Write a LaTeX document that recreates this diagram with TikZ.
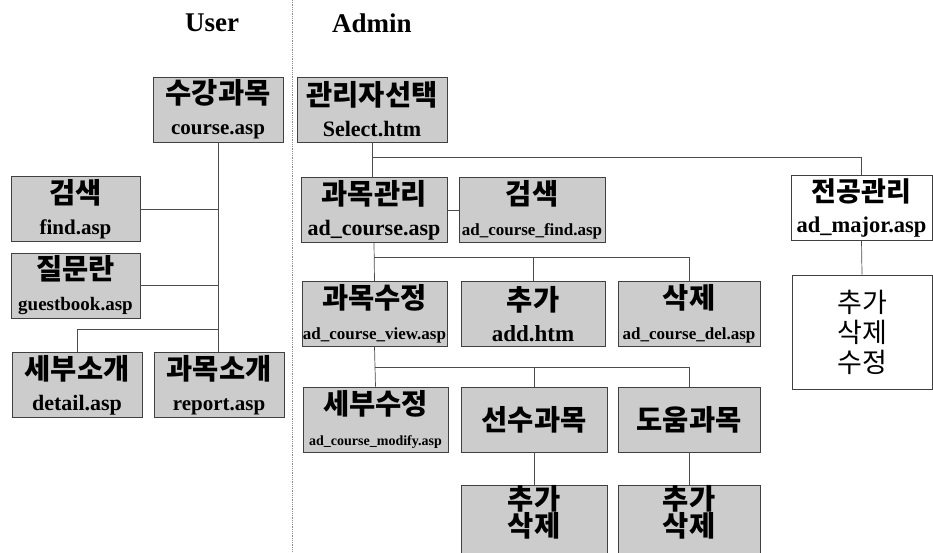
\documentclass[tikz,border=0pt]{standalone}
\usepackage{fontspec}
\setmainfont{Liberation Serif}
\newfontfamily\kor{Noto Sans CJK KR}
\usetikzlibrary{positioning}

% korean title line and file name line
\newcommand{\kr}[1]{{\kor\bfseries\fontsize{28.5}{31}\selectfont #1}}
\newcommand{\krl}[1]{{\kor\fontsize{27}{30}\selectfont #1}}
\newcommand{\fn}[2]{{\bfseries\fontsize{#1}{31}\selectfont #2}}

\begin{document}
\begin{tikzpicture}[x=1pt,y=-1pt,%
		   box/.style={draw=black!75,line width=0.8pt,fill=black!20,align=center,inner sep=0pt,minimum height=65pt,font=\bfseries\fontsize{21}{31}\selectfont},
		   plainbox/.style={box,fill=white},
		   link/.style={draw=black!70,line width=0.7pt},
		   head/.style={font=\bfseries\fontsize{27}{30}\selectfont}]

	\useasboundingbox (0,0) rectangle (933,553);

	% divider between the two sides
	\draw[black!45,densely dotted,line width=0.8pt] (292,0) -- (292,553);
	\node[head] (user) at (212,23) {User};
	\node[head] (admin) at (372,23) {Admin};

	% user side
	\foreach \name/\x/\y/\w/\kt/\et/\fs in {%
	   course/218/109.5/130/수강과목/course.asp/21,%
	   find/75.5/209/129/검색/find.asp/21,%
	   guest/75.5/285.5/129/질문란/guestbook.asp/19,%
	   detail/77/385/130/세부소개/detail.asp/22,%
	   report/219/385/130/과목소개/report.asp/21%
	   } {\node[box,minimum width=\w pt] (\name) at (\x,\y) {\kr{\kt}\\\fn{\fs}{\et}};}

	\draw[link] (course.south) -- (course.south |- report.north);
	\draw[link] (find.east) -- (find.east -| course.south);
	\draw[link] (guest.east) -- (guest.east -| course.south);
	\coordinate (ubranch) at (course.south |- 0,329);
	\draw[link] (ubranch) -| (detail.north);

	% admin side
	\foreach \name/\x/\y/\w/\kt/\et/\fs in {%
	   select/372/109.5/150/관리자선택/Select.htm/22,%
	   adcourse/374/210/146/과목관리/ad\_course.asp/22,%
	   adfind/532/210/146/검색/ad\_course\_find.asp/17,%
	   view/374.5/314/145/과목수정/ad\_course\_view.asp/17,%
	   add/533/314/144/추가/add.htm/23,%
	   del/689/314/142/삭제/ad\_course\_del.asp/17,%
	   modify/375.5/419.5/145/세부수정/ad\_course\_modify.asp/14%
	   } {\node[box,minimum width=\w pt] (\name) at (\x,\y) {\kr{\kt}\\\fn{\fs}{\et}};}

	\node[box,minimum width=146pt] (pre) at (534,419.5) {\kr{선수과목}};
	\node[box,minimum width=142pt] (help) at (689,419.5) {\kr{도움과목}};
	\node[box,minimum width=146pt,text depth=20pt,font=\fontsize{28}{26}\selectfont] (preadd) at (534,521) {\kr{추가}\\\kr{삭제}};
	\node[box,minimum width=142pt,text depth=20pt,font=\fontsize{28}{26}\selectfont] (helpadd) at (689,521) {\kr{추가}\\\kr{삭제}};

	\node[plainbox,minimum width=141pt] (major) at (861.5,207.5) {\krl{전공관리}\\\fn{22.5}{ad\_major.asp}};
	\node[plainbox,minimum width=140pt,minimum height=114pt,font=\fontsize{27}{30}\selectfont] (majorsub) at (862,332) {\krl{추가}\\\krl{삭제}\\\krl{수정}};

	\draw[link] (select.south) -- (select.south |- adcourse.north);
	\coordinate (abranch) at (select.south |- 0,157);
	\draw[link] (abranch) -| (major.north);
	\draw[link] (major.south) -- (majorsub.north);
	\draw[link] (adcourse.east) -- (adfind.west);

	\draw[link] (adcourse.south) -- (view.north);
	\coordinate (cbranch) at (adcourse.south |- 0,257);
	\foreach \n in {add,del} \draw[link] (cbranch) -| (\n.north);

	\draw[link] (view.south) -- (modify.north);
	\coordinate (vbranch) at (view.south |- 0,367);
	\foreach \n in {pre,help} \draw[link] (vbranch) -| (\n.north);

	\draw[link] (pre.south) -- (preadd.north);
	\draw[link] (help.south) -- (helpadd.north);

\end{tikzpicture}
\end{document}
